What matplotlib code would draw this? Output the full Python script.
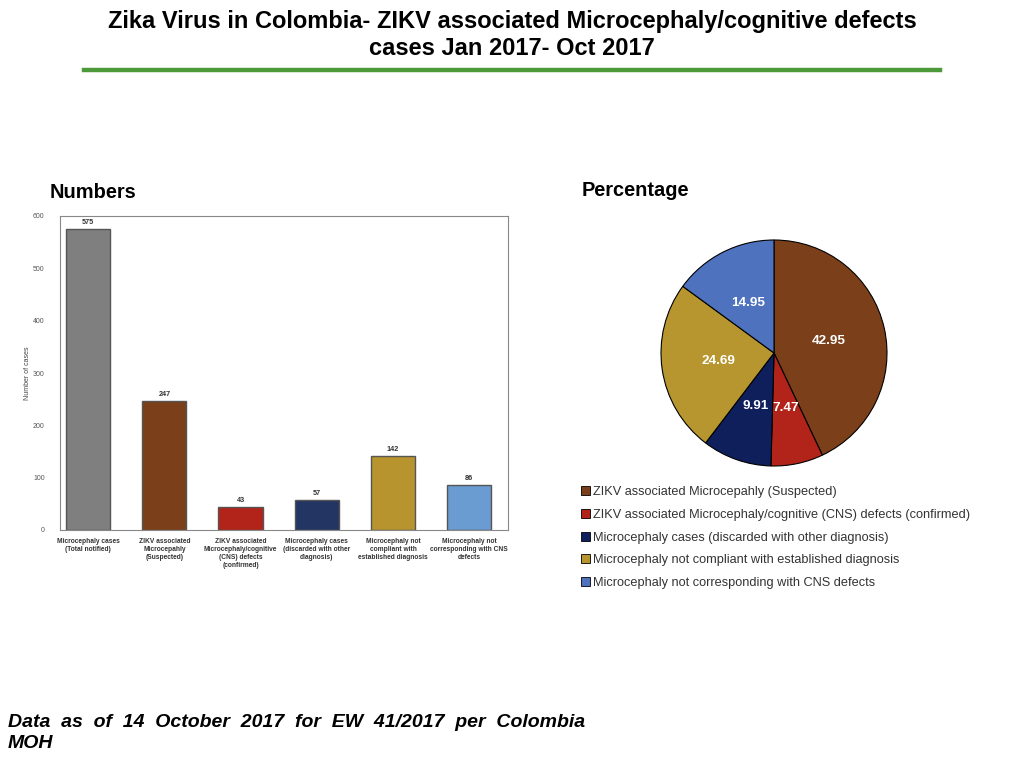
import matplotlib.pyplot as plt
from matplotlib.lines import Line2D
from matplotlib.patches import Patch

plt.rcParams['font.family'] = ['Liberation Sans', 'DejaVu Sans']

# -----------------------------
# Data
# -----------------------------
bar_labels = [
    "Microcephaly cases\n(Total notified)",
    "ZIKV associated\nMicrocepahly\n(Suspected)",
    "ZIKV associated\nMicrocephaly/cognitive\n(CNS) defects\n(confirmed)",
    "Microcephaly cases\n(discarded with other\ndiagnosis)",
    "Microcephaly not\ncompliant with\nestablished diagnosis",
    "Microcephaly not\ncorresponding with CNS\ndefects",
]
bar_values = [575, 247, 43, 57, 142, 86]
bar_colors = ["#7f7f7f", "#7b3f1a", "#b2241a", "#233562", "#b8942f", "#6a9bd1"]

pie_labels = [
    "ZIKV associated Microcepahly (Suspected)",
    "ZIKV associated Microcephaly/cognitive (CNS) defects (confirmed)",
    "Microcephaly cases (discarded with other diagnosis)",
    "Microcephaly not compliant with established diagnosis",
    "Microcephaly not corresponding with CNS defects",
]
pie_values = [42.95, 7.47, 9.91, 24.69, 14.95]
pie_colors = ["#7b3f1a", "#b2241a", "#0e1f5b", "#b8962f", "#4f72bf"]

fig = plt.figure(figsize=(10.24, 7.68), dpi=100)

# -----------------------------
# Title and green rule
# -----------------------------
fig.text(0.5, 1 - 35/768, "Zika Virus in Colombia- ZIKV associated Microcephaly/cognitive defects\ncases Jan 2017- Oct 2017",
         ha='center', va='center', fontsize=17, fontweight='bold', linespacing=1.25)
fig.add_artist(Line2D([84/1024, 940/1024], [1 - 70/768, 1 - 70/768],
                      color="#4c9a3a", linewidth=3.2))

fig.text(50/1024, 1 - 193/768, "Numbers", fontsize=14.4, fontweight='bold', va='center')
fig.text(582/1024, 1 - 191/768, "Percentage", fontsize=14.4, fontweight='bold', va='center')

# -----------------------------
# Bar chart
# -----------------------------
ax = fig.add_axes([60/1024, 1 - 530/768, 448/1024, 314/768])
x = range(len(bar_values))
ax.bar(x, bar_values, width=0.58, color=bar_colors, edgecolor="#555555", linewidth=1.0)
for xi, v in zip(x, bar_values):
    ax.text(xi, v + 6, str(v), ha='center', va='bottom', fontsize=5.2, fontweight='bold', color="#333333")
ax.set_xlim(-0.37, 5.51)
ax.set_ylim(0, 600)
ax.set_yticks([0, 100, 200, 300, 400, 500, 600])
ax.set_xticks(list(x))
ax.set_xticklabels(bar_labels, fontsize=4.8, fontweight='bold', color="#333333")
ax.tick_params(axis='x', length=0, pad=6)
ax.tick_params(axis='y', length=0, labelsize=5, colors="#555555", pad=11)
ax.set_ylabel("Number of cases", fontsize=5, color="#444444", labelpad=1.5)
for s in ax.spines.values():
    s.set_color("#888888")
    s.set_linewidth(0.8)

# -----------------------------
# Pie chart
# -----------------------------
pax = fig.add_axes([(774 - 113)/1024, (768 - 353 - 113)/768, 226/1024, 226/768])
pax.pie(pie_values, colors=pie_colors, startangle=90, counterclock=False,
        labels=[f"{v:.2f}" for v in pie_values], labeldistance=0.5,
        textprops=dict(color='white', fontsize=9.7, fontweight='bold', ha='center', va='center'),
        wedgeprops=dict(edgecolor='black', linewidth=0.8))
pax.set_xlim(-1, 1)
pax.set_ylim(-1, 1)

handles = [Patch(facecolor=c, edgecolor='black', linewidth=0.6) for c in pie_colors]
fig.legend(handles, pie_labels, loc='upper left', bbox_to_anchor=(576/1024, 1 - 481/768),
           frameon=False, fontsize=9.2, labelcolor="#333333", handlelength=0.7, handleheight=0.7,
           handletextpad=0.2, labelspacing=0.84, borderaxespad=0)

# -----------------------------
# Footer
# -----------------------------
fig.text(8/1024, 1 - 733/768, "Data  as  of  14  October  2017  for  EW  41/2017  per  Colombia\nMOH",
         fontsize=14, fontweight='bold', fontstyle='italic', va='center', ha='left', linespacing=1.3)

fig.savefig("out.png", dpi=100)
